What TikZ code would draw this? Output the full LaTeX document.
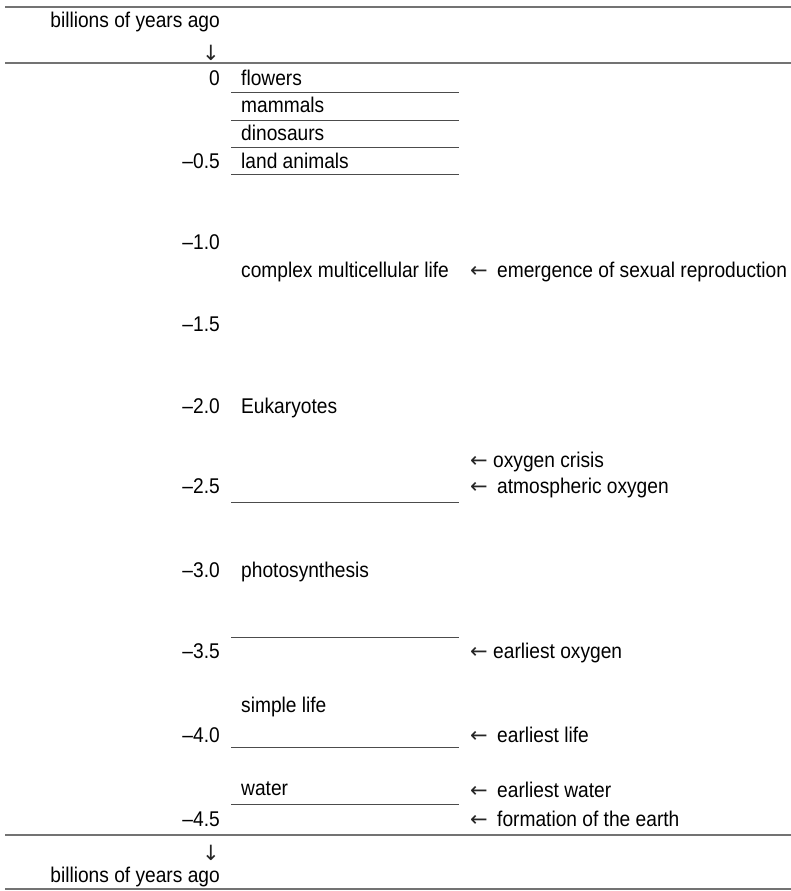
\documentclass[tikz,border=0pt]{standalone}
\usepackage{fontspec}
\setmainfont[FakeStretch=0.9]{Liberation Sans}
\newfontfamily\arrowfont{DejaVu Sans}
\begin{document}
\begin{tikzpicture}[x=1pt,y=-1pt,
  txt/.style={inner sep=0pt, font=\fontsize{21.3}{24}\selectfont},
  num/.style={txt, anchor=base east},
  lbl/.style={txt, anchor=base west},
  arr/.style={inner sep=0pt, anchor=base west, text=black!85, font=\arrowfont\fontsize{21}{24}\selectfont},
  darr/.style={inner sep=0pt, anchor=center, text=black!85, font=\arrowfont\fontsize{21}{24}\selectfont},
  rulel/.style={line width=1.5pt, black!55},
  sepl/.style={line width=1pt, black!70}]
\useasboundingbox[fill=white] (0,0) rectangle (791,891);
% outer rules
\coordinate (r1a) at (5,7);   \coordinate (r1b) at (791,7);
\coordinate (r2a) at (5,63);  \coordinate (r2b) at (791,63);
\coordinate (r3a) at (5,835); \coordinate (r3b) at (791,835);
\coordinate (r4a) at (5,889); \coordinate (r4b) at (791,889);
\draw[rulel] (r1a) -- (r1b);
\draw[rulel] (r2a) -- (r2b);
\draw[rulel] (r3a) -- (r3b);
\draw[rulel] (r4a) -- (r4b);
% headers
\node[num] (top) at (220,28) {billions of years ago};
\node[darr] (topar) at (211,53) {↓};
\node[darr] (botar) at (211,853) {↓};
\node[num] (bot) at (220,882) {billions of years ago};
% scale numbers
\node[num] (n0) at (220,85) {0};
\node[num] (n05) at (220,168) {–0.5};
\node[num] (n10) at (220,249) {–1.0};
\node[num] (n15) at (220,331) {–1.5};
\node[num] (n20) at (220,413) {–2.0};
\node[num] (n25) at (220,493) {–2.5};
\node[num] (n30) at (220,577) {–3.0};
\node[num] (n35) at (220,658) {–3.5};
\node[num] (n40) at (220,742) {–4.0};
\node[num] (n45) at (220,826) {–4.5};
% middle column labels
\node[lbl] (flowers) at (241,85) {flowers};
\node[lbl] (mammals) at (241,112) {mammals};
\node[lbl] (dinos) at (241,140) {dinosaurs};
\node[lbl] (land) at (241,168) {land animals};
\node[lbl] (complex) at (241,277) {complex multicellular life};
\node[lbl] (euk) at (241,413) {Eukaryotes};
\node[lbl] (photo) at (241,577) {photosynthesis};
\node[lbl] (simple) at (241,712) {simple life};
\node[lbl] (water) at (241,795) {water};
% middle column lines
\foreach \n/\y in {a/92,b/120,c/147,d/174,e/502,f/637,g/747,h/804}{
  \coordinate (s\n1) at (231,\y); \coordinate (s\n2) at (459,\y);
  \draw[sepl] (s\n1) -- (s\n2);
}
% right column
\node[arr] (a1) at (470,277) {←};
\node[lbl] (t1) at (497,277) {emergence of sexual reproduction};
\node[arr] (a2) at (470,467) {←};
\node[lbl] (t2) at (493,467) {oxygen crisis};
\node[arr] (a3) at (470,493) {←};
\node[lbl] (t3) at (497,493) {atmospheric oxygen};
\node[arr] (a4) at (470,658) {←};
\node[lbl] (t4) at (493,658) {earliest oxygen};
\node[arr] (a5) at (470,742) {←};
\node[lbl] (t5) at (497,742) {earliest life};
\node[arr] (a6) at (470,797) {←};
\node[lbl] (t6) at (497,797) {earliest water};
\node[arr] (a7) at (470,826) {←};
\node[lbl] (t7) at (497,826) {formation of the earth};
\end{tikzpicture}
\end{document}
